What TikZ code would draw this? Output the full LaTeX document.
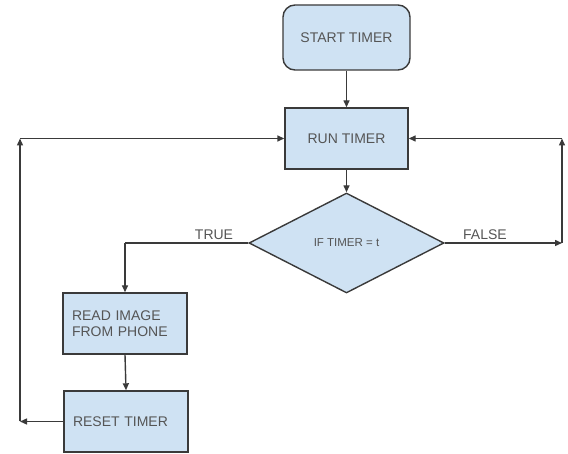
\documentclass[tikz,border=0pt]{standalone}
\usepackage{fontspec}
\setmainfont{Liberation Sans}
\usetikzlibrary{shapes.geometric,arrows.meta}
\definecolor{boxfill}{HTML}{CFE2F3}
\definecolor{edge}{HTML}{3A3A3A}
\definecolor{txt}{HTML}{555555}
\tikzset{
  procbox/.style={draw=edge, line width=1.4pt, fill=boxfill, text=txt,
    font=\fontsize{14}{16}\selectfont, inner sep=0pt},
  leftbox/.style={procbox, align=left, text width=106pt, inner xsep=9pt},
  decision/.style={diamond, draw=edge, line width=1.4pt, fill=boxfill, text=txt,
    font=\fontsize{11.5}{13}\selectfont, inner sep=0pt},
  lbl/.style={text=txt, font=\fontsize{14}{16}\selectfont, inner sep=0pt},
  conn/.style={draw=edge, line width=1.4pt, -{Triangle[length=7pt,width=6pt]}},
  plain/.style={draw=edge, line width=1.4pt}
}
\begin{document}
\begin{tikzpicture}[x=1pt,y=-1pt]
\useasboundingbox (0,0) rectangle (568,454);
\node[procbox, rounded corners=12pt, minimum width=127pt, minimum height=65pt] (start) at (346.5,37.5) {START TIMER};
\node[procbox, minimum width=123pt, minimum height=61pt] (run) at (346.5,138.5) {RUN TIMER};
\node[decision, minimum width=195pt, minimum height=100pt] (dia) at (346.5,243) {IF TIMER = t};
\node[leftbox, minimum height=61pt] (read) at (125,323.5) {READ IMAGE\\FROM PHONE};
\node[leftbox, minimum height=61pt] (reset) at (126,421.5) {RESET TIMER};
\node[lbl] (ltrue) at (214,235) {TRUE};
\node[lbl] (lfalse) at (485,235) {FALSE};
\coordinate (fr) at (562,243);
\coordinate (tr) at (562,138.5);
\coordinate (bl) at (20,421.5);
\coordinate (tl) at (20,138.5);
\draw[conn] (start.south) -- (run.north);
\draw[conn] (run.south) -- (dia.north);
\draw[plain] (dia.west) -- (read.north |- dia.west);
\draw[conn] (read.north |- dia.west) -- (read.north);
\draw[conn] (read.south) -- (reset.north);
\draw[conn] (dia.east) -- (fr);
\draw[conn] (fr) -- (tr);
\draw[conn] (tr) -- (run.east);
\draw[conn] (reset.west) -- (bl);
\draw[conn] (bl) -- (tl);
\draw[conn] (tl) -- (run.west);
\end{tikzpicture}
\end{document}
